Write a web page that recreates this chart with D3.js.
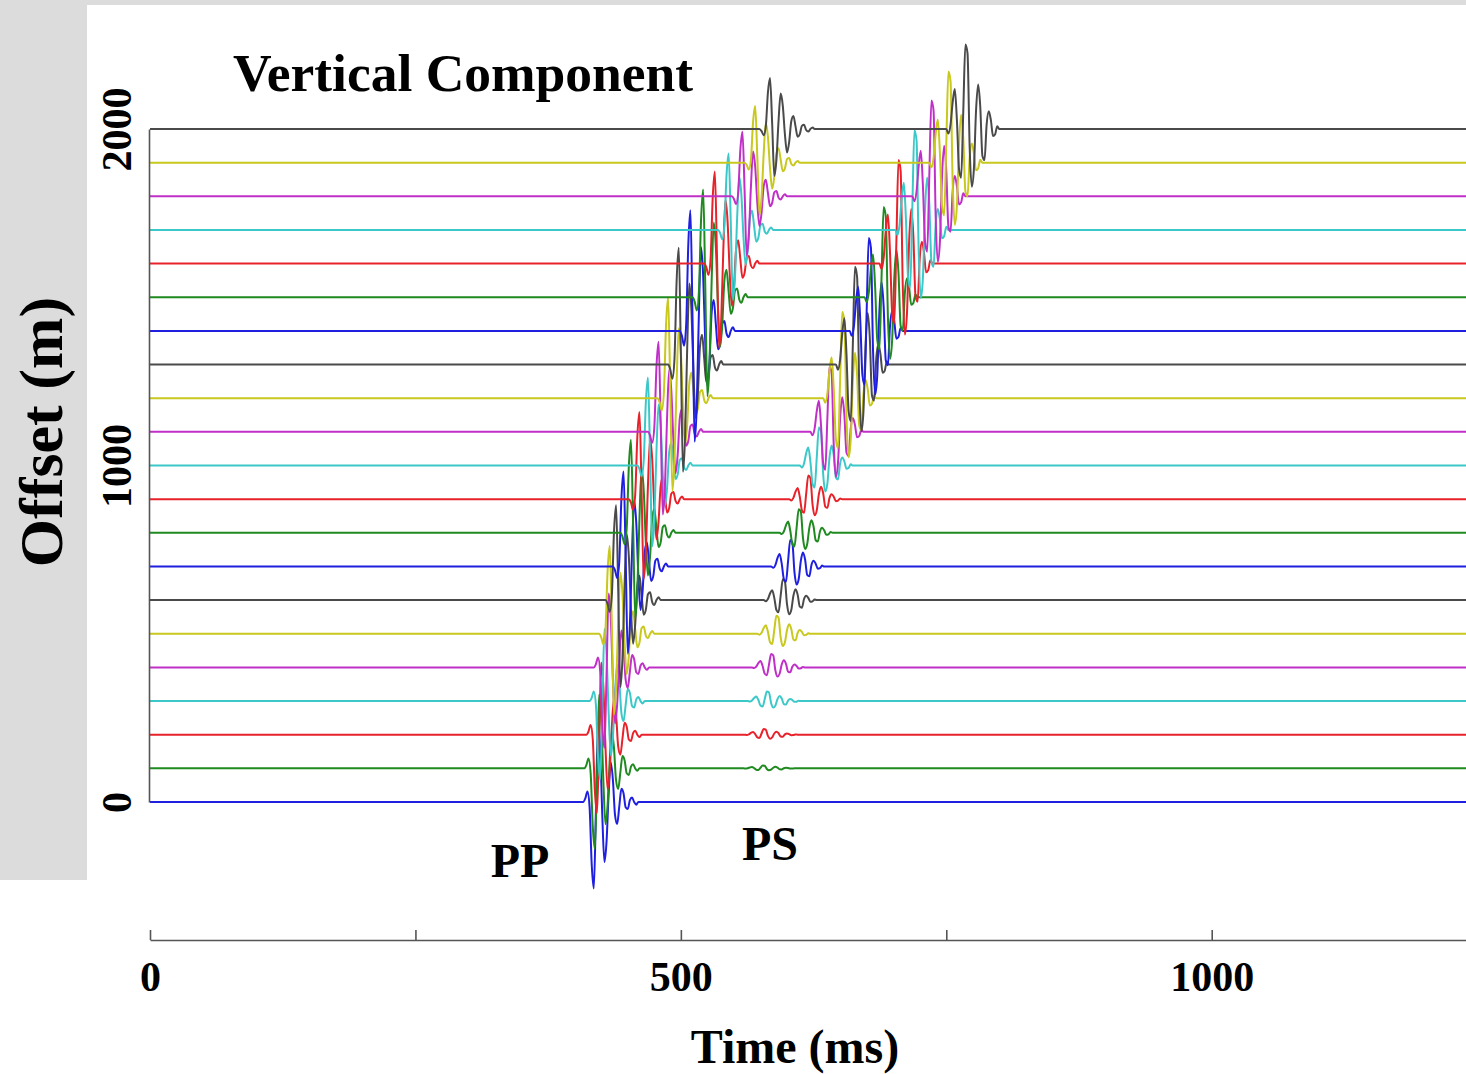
<!DOCTYPE html>
<html>
<head>
<meta charset="utf-8">
<script src="https://d3js.org/d3.v7.min.js"></script>
<style>
  body { margin: 0; background: #fff; }
  text { font-family: "Liberation Serif", "Times New Roman", serif; font-weight: bold; fill: #000; }
</style>
</head>
<body>
<div id="graph"></div>

<script>

// Receiver offsets (m), one trace each
var offsets = [0, 100, 200, 300, 400, 500, 600, 700, 800, 900, 1000,
               1100, 1200, 1300, 1400, 1500, 1600, 1700, 1800, 1900, 2000]

// PP arrival: onset time (ms) and peak amplitude (in trace spacings)
var ppTime = [408, 409, 411, 414, 418, 423, 429, 436, 443, 451, 459,
              469, 478, 488, 499, 511, 522, 535, 548, 560, 574]
var ppAmp = [-2.62, -2.44, -2.38, -2.38, -2.44, 2.67, 2.88, 2.88, 2.82, 2.64, 2.67,
             2.73, 3.06, 3.54, 3.66, 3.27, 2.79, 2.32, 1.96, 1.72, 1.55]

// PS arrival: onset time (ms) and peak amplitude (in trace spacings)
var psTime = [558, 559, 560, 563, 567, 572, 578, 585, 593, 602, 612,
              622, 634, 646, 659, 673, 687, 702, 718, 734, 750]
var psAmp = [0, 0.09, 0.18, 0.30, 0.42, 0.56, 0.65, 0.83, 0.74, 0.74, 1.19,
             2.05, 2.70, 3.06, 2.91, 2.82, 3.24, 3.12, 3.00, 2.85, 2.64]

// Wavelet shapes, one sample every 2 ms
var waveletStep = 2
var ppWavelet = [0, -0.04, -0.12, 0.05, 0.7, 0.98, 0.1, -0.9, -0.6, 0.15, 0.68, 0.45,
                 -0.1, -0.45, -0.25, 0.15, 0.25, 0.05, -0.15, -0.1, 0.06, 0.08,
                 -0.02, -0.05, 0, 0.03, 0, 0]
var psWavelet = [0, -0.05, 0.05, 0.3, 0.45, 0.1, -0.45, -0.55, 0.2, 0.95, 0.85, -0.2,
                 -0.65, -0.45, 0.2, 0.5, 0.25, -0.3, -0.35, 0.05, 0.2, 0.1,
                 -0.08, -0.06, 0.03, 0, 0]

// Axis ticks
var timeTicks = [0, 250, 500, 750, 1000]
var timeLabels = ['0', '', '500', '', '1000']
var offsetTicks = [0, 1000, 2000]

// MATLAB default line colour order b g r c m y k
var traceColors = ['#1f1fe0', '#1f8a1f', '#e8222a', '#3cc8c8', '#c030c8', '#c8c81e', '#4a4a4a']

var W = 1466, H = 1074
var tMax = 1239.5

var svg = d3.select('#graph')
    .append('svg')
    .attr('width', W)
    .attr('height', H)

// Grey panel behind the y label and thin band on top
svg.append('rect').attr('x', 0).attr('y', 0).attr('width', 87).attr('height', 880).attr('fill', '#dcdcdc')
svg.append('rect').attr('x', 0).attr('y', 0).attr('width', W).attr('height', 5).attr('fill', '#dcdcdc')

// Scales
var x = d3.scaleLinear().domain([0, tMax]).range([150, 1466])
var y = d3.scaleLinear().domain([0, 2000]).range([802, 129])
var traceGain = 100   // one amplitude unit = one trace spacing

// Build the traces
var traces = offsets.map(function(off, i) {
  var pts = [[0, 0]]
  ppWavelet.forEach(function(w, k) { pts.push([ppTime[i] + k * waveletStep, ppAmp[i] * w]) })
  psWavelet.forEach(function(w, k) { pts.push([psTime[i] + k * waveletStep, psAmp[i] * w]) })
  pts.push([tMax, 0])
  return {offset: off, color: traceColors[i % traceColors.length], pts: pts}
})

var line = d3.line().curve(d3.curveMonotoneX)

svg.append('g')
  .selectAll('path')
  .data(traces)
  .join('path')
    .attr('d', function(d) {
      return line.x(function(p) { return x(p[0]) })
                 .y(function(p) { return y(d.offset + p[1] * traceGain) })(d.pts)
    })
    .attr('fill', 'none')
    .attr('stroke', function(d) { return d.color })
    .attr('stroke-width', 2)
    .attr('stroke-linejoin', 'round')

// Y axis (line plus rotated labels)
var yAxis = svg.append('g')
    .attr('transform', 'translate(149,0)')
    .call(d3.axisLeft(y).tickValues(offsetTicks).tickSize(0).tickFormat(d3.format('d')))
yAxis.select('.domain').attr('stroke', '#555').attr('stroke-width', 1.6)
yAxis.selectAll('text')
    .attr('x', 0).attr('dy', 0)
    .attr('text-anchor', 'middle')
    .attr('transform', 'translate(-18,0) rotate(-90)')
    .style('font-size', '42px')
    .style('font-family', '"Liberation Serif", serif')

// X axis
var xAxis = svg.append('g')
    .attr('transform', 'translate(0,940)')
    .call(d3.axisBottom(x).tickValues(timeTicks).tickSizeInner(-10).tickSizeOuter(0)
      .tickPadding(21).tickFormat(function(d, i) { return timeLabels[i] }))
xAxis.select('.domain').attr('stroke', '#555').attr('stroke-width', 1.6)
xAxis.selectAll('line').attr('stroke', '#555').attr('stroke-width', 1.6)
xAxis.selectAll('text')
    .style('font-size', '42px')
    .style('font-family', '"Liberation Serif", serif')

// Titles and annotations
svg.append('text').attr('x', 233).attr('y', 91)
    .style('font-size', '53.5px').text('Vertical Component')

svg.append('text').attr('x', 795).attr('y', 1063)
    .attr('text-anchor', 'middle')
    .style('font-size', '48px').text('Time (ms)')

svg.append('text')
    .attr('text-anchor', 'middle')
    .attr('transform', 'translate(62,432) rotate(-90)')
    .style('font-size', '62px').text('Offset (m)')

svg.append('text').attr('x', 520).attr('y', 877)
    .attr('text-anchor', 'middle')
    .style('font-size', '48px').text('PP')

svg.append('text').attr('x', 770).attr('y', 860)
    .attr('text-anchor', 'middle')
    .style('font-size', '48px').text('PS')

</script>
</body>
</html>
